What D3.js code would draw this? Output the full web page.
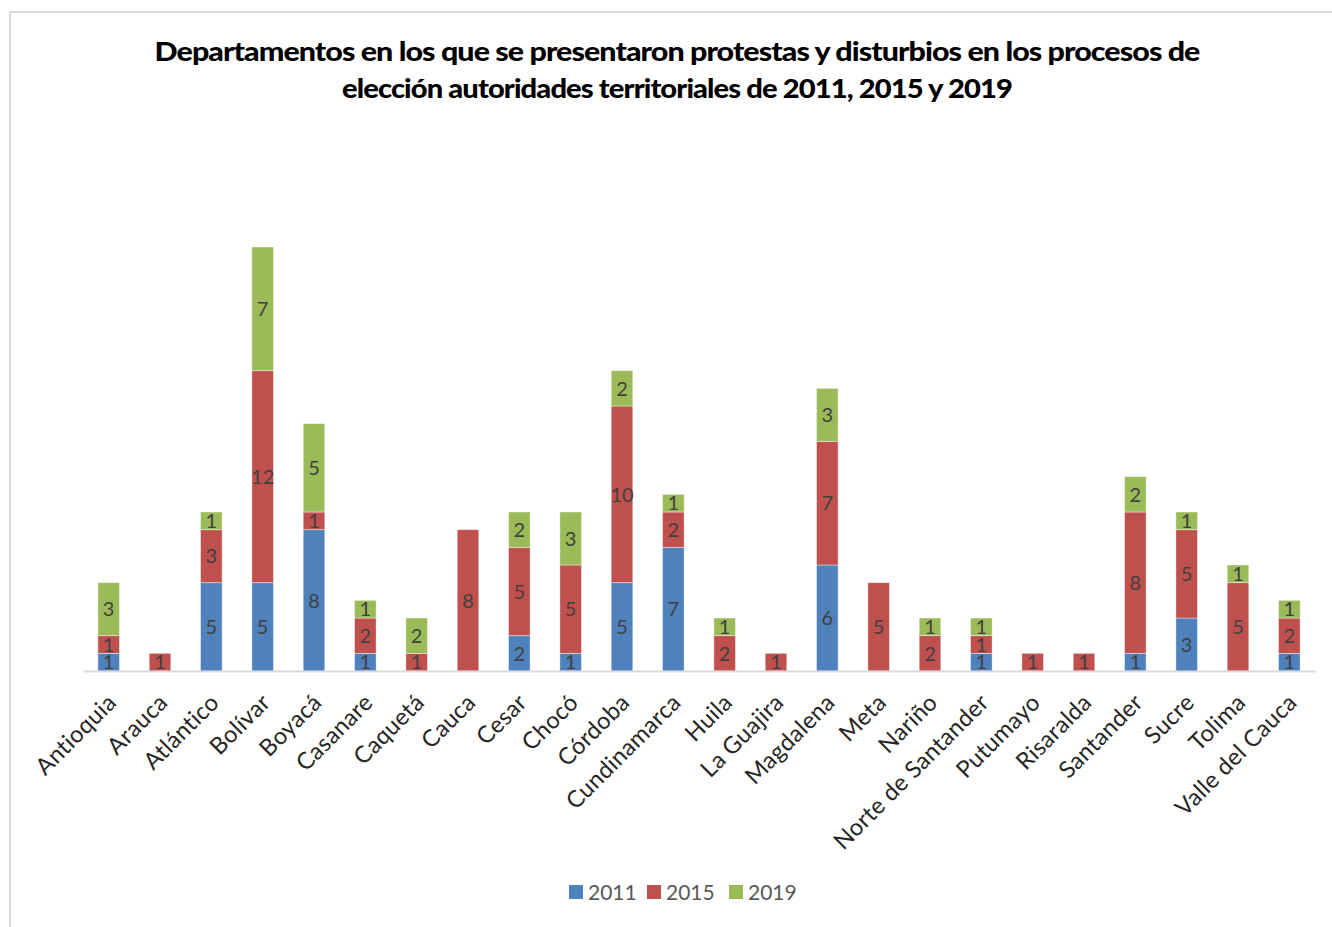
<!DOCTYPE html>
<html><head><meta charset="utf-8">
<script src="https://cdn.jsdelivr.net/npm/d3@7"></script>
<style>body{margin:0;background:#fff}svg{display:block}</style>
</head><body>
<svg id="c" width="1332" height="927"></svg>
<script>
const categories = ["Antioquia","Arauca","Atlántico","Bolívar","Boyacá","Casanare","Caquetá","Cauca","Cesar","Chocó","Córdoba","Cundinamarca","Huila","La Guajira","Magdalena","Meta","Nariño","Norte de Santander","Putumayo","Risaralda","Santander","Sucre","Tolima","Valle del Cauca"];
const seriesNames = ["2011","2015","2019"];
const v2011 = [1,0,5,5,8,1,0,0,2,1,5,7,0,0,6,0,0,1,0,0,1,3,0,1];
const v2015 = [1,1,3,12,1,2,1,8,5,5,10,2,2,1,7,5,2,1,1,1,8,5,5,2];
const v2019 = [3,0,1,7,5,1,2,0,2,3,2,1,1,0,3,0,1,1,0,0,2,1,1,1];
const colors = ["#4F81BD","#C0504D","#9BBB59"];
const titleLines = ["Departamentos en los que se presentaron protestas y disturbios en los procesos de","elección autoridades territoriales de 2011, 2015 y 2019"];

const svg = d3.select("#c");
// outer frame
svg.append("rect").attr("x",10).attr("y",12).attr("width",1340).attr("height",940)
  .attr("fill","none").attr("stroke","#d9d9d9").attr("stroke-width",2);

// title
const tW = [1045, 670];
titleLines.forEach((t,i)=>{
  const el = svg.append("text").attr("x",677).attr("y",61+i*37).attr("text-anchor","middle")
    .attr("font-family","Lato").attr("font-weight",900).attr("font-size",26)
    .attr("fill","#000").attr("letter-spacing","-0.8").text(t);
  const len = el.node().getComputedTextLength();
  if (Math.abs(len - tW[i]) > 4) el.attr("textLength", tW[i]).attr("lengthAdjust","spacingAndGlyphs");
});

const data = categories.map((c,i)=>({cat:c, "2011":v2011[i], "2015":v2015[i], "2019":v2019[i]}));
const stack = d3.stack().keys(seriesNames)(data);

const x = d3.scaleBand().domain(categories).range([83,1315]).paddingInner(0.58).paddingOuter(0.29);
const y = d3.scaleLinear().domain([0,24]).range([671,247]);

const g = svg.append("g");
stack.forEach((s,si)=>{
  const sg = g.append("g");
  sg.selectAll("rect").data(s.filter(d=>d[1]-d[0]>0)).join("rect")
    .attr("x",d=>x(d.data.cat)).attr("width",x.bandwidth())
    .attr("y",d=>y(d[1])).attr("height",d=>y(d[0])-y(d[1]))
    .attr("fill",colors[si]).attr("stroke","#fff").attr("stroke-opacity",0.5).attr("stroke-width",0.8);
});
stack.forEach((s,si)=>{
  g.append("g").selectAll("text").data(s.filter(d=>d[1]-d[0]>0)).join("text")
    .attr("x",d=>x(d.data.cat)+x.bandwidth()/2)
    .attr("y",d=>(y(d[0])+y(d[1]))/2)
    .attr("dy","0.36em").attr("text-anchor","middle")
    .attr("font-family","Lato").attr("font-size",20).attr("fill","#404040")
    .text(d=>d[1]-d[0]);
});

// x axis
const ax = svg.append("g").attr("transform","translate(0,671)")
  .call(d3.axisBottom(x).tickSize(0).tickPadding(0));
ax.select(".domain").attr("stroke","#d9d9d9").attr("stroke-width",2);
ax.selectAll(".tick text")
  .attr("font-family","Lato").attr("font-size",23.5).attr("letter-spacing","0.3").attr("fill","#262626")
  .attr("text-anchor","end").attr("dy",null).attr("y",0)
  .attr("transform","translate(9,33) rotate(-45)");

// legend
const legX = [569,647,729];
seriesNames.forEach((n,i)=>{
  svg.append("rect").attr("x",legX[i]).attr("y",885).attr("width",14).attr("height",14).attr("fill",colors[i]);
  svg.append("text").attr("x",legX[i]+19).attr("y",900).attr("font-family","Lato").attr("font-size",21)
    .attr("fill","#595959").text(n);
});
</script>
</body></html>
